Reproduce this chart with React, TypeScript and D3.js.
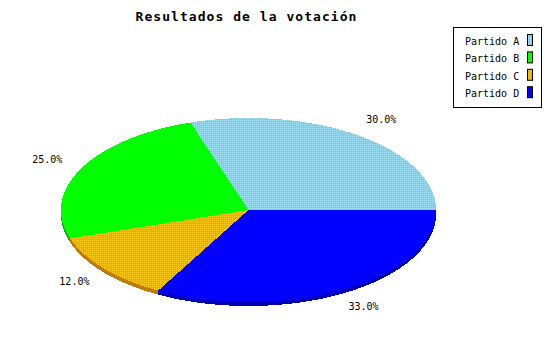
import React from "react";
import * as d3 from "d3";

const title = "Resultados de la votación";
const parties = ["Partido A", "Partido B", "Partido C", "Partido D"];
const votes = [30, 25, 12, 33];
const topColors = ["url(#ditherA)", "#00ff00", "url(#ditherC)", "#0000ff"];
const legendColors = ["url(#ditherA)", "#00ff00", "url(#ditherC)", "#0000ff"];
const sideColors = ["#6a9cb8", "#00bb00", "#c47a00", "#0000b8"];

const W = 545;
const H = 338;
const cx = 248.5;
const cy = 210;
const rx = 187.5;
const ry = 92;
const depth = 4;
const mono = "'DejaVu Sans Mono', 'Liberation Mono', monospace";

// Point on the top ellipse for a math angle (counter-clockwise from 3 o'clock)
const pt = (t: number, dy = 0): [number, number] => [
  cx + rx * Math.cos(t),
  cy - ry * Math.sin(t) + dy,
];

const arcPoints = (t0: number, t1: number, dy = 0) => {
  const n = Math.max(2, Math.ceil(((t1 - t0) / (2 * Math.PI)) * 360));
  return d3.range(n + 1).map((i) => pt(t0 + ((t1 - t0) * i) / n, dy));
};

const line = d3.line<[number, number]>();

export default function App() {
  const arcs = d3
    .pie<number>()
    .sort(null)
    .startAngle(0)
    .endAngle(2 * Math.PI)(votes);
  const total = d3.sum(votes);

  return (
    <svg width={W} height={H} style={{ display: "block", position: "absolute", left: 0, top: 0 }}>
      <defs>
        <pattern id="ditherA" width={2} height={2} patternUnits="userSpaceOnUse">
          <rect width={2} height={2} fill="#88ccf2" />
          <rect width={1} height={1} fill="#a0e0f4" />
          <rect x={1} y={1} width={1} height={1} fill="#7cc6f0" />
        </pattern>
        <pattern id="ditherC" width={2} height={2} patternUnits="userSpaceOnUse">
          <rect width={2} height={2} fill="#f8a800" />
          <rect width={1} height={1} fill="#ffcc22" />
        </pattern>
      </defs>
      <rect width={W} height={H} fill="#ffffff" />

      <text
        x={246.5}
        y={21}
        textAnchor="middle"
        fontFamily={mono}
        fontWeight="bold"
        fontSize={13}
        letterSpacing={1.05}
      >
        {title}
      </text>

      {/* visible sides of the front half */}
      <g shapeRendering="crispEdges">
        {arcs.map((a, i) => {
          const t0 = Math.max(a.startAngle, Math.PI);
          const t1 = Math.min(a.endAngle, 2 * Math.PI);
          if (t1 <= t0) return null;
          const top = arcPoints(t0, t1);
          const bottom = arcPoints(t0, t1, depth).reverse();
          return (
            <path key={"s" + i} d={line([...top, ...bottom])! + "Z"} fill={sideColors[i]} />
          );
        })}
      </g>

      {/* top faces */}
      <g shapeRendering="crispEdges">
        {arcs.map((a, i) => (
          <path
            key={"t" + i}
            d={line([[cx, cy], ...arcPoints(a.startAngle, a.endAngle)])! + "Z"}
            fill={topColors[i]}
          />
        ))}
      </g>

      {/* percentage labels */}
      {arcs.map((a, i) => {
        const m = (a.startAngle + a.endAngle) / 2;
        const x = cx + rx * 1.205 * Math.cos(m);
        const y = cy - ry * 1.215 * Math.sin(m);
        return (
          <text
            key={"l" + i}
            x={x}
            y={y + 3.5}
            textAnchor="middle"
            fontFamily={mono}
            fontSize={10}
          >
            {d3.format(".1f")((votes[i] / total) * 100) + "%"}
          </text>
        );
      })}

      {/* legend */}
      <rect x={453.5} y={27.5} width={88} height={80} fill="#ffffff" stroke="#000" strokeWidth={1} />
      {parties.map((p, i) => {
        const y0 = 34 + i * 17.4;
        return (
          <g key={"g" + i}>
            <text x={465} y={y0 + 11} fontFamily={mono} fontSize={10}>
              {p}
            </text>
            <rect
              x={527.5}
              y={y0 + 0.5}
              width={5}
              height={11}
              fill={legendColors[i]}
              stroke="#000"
              strokeWidth={1}
            />
          </g>
        );
      })}
    </svg>
  );
}
